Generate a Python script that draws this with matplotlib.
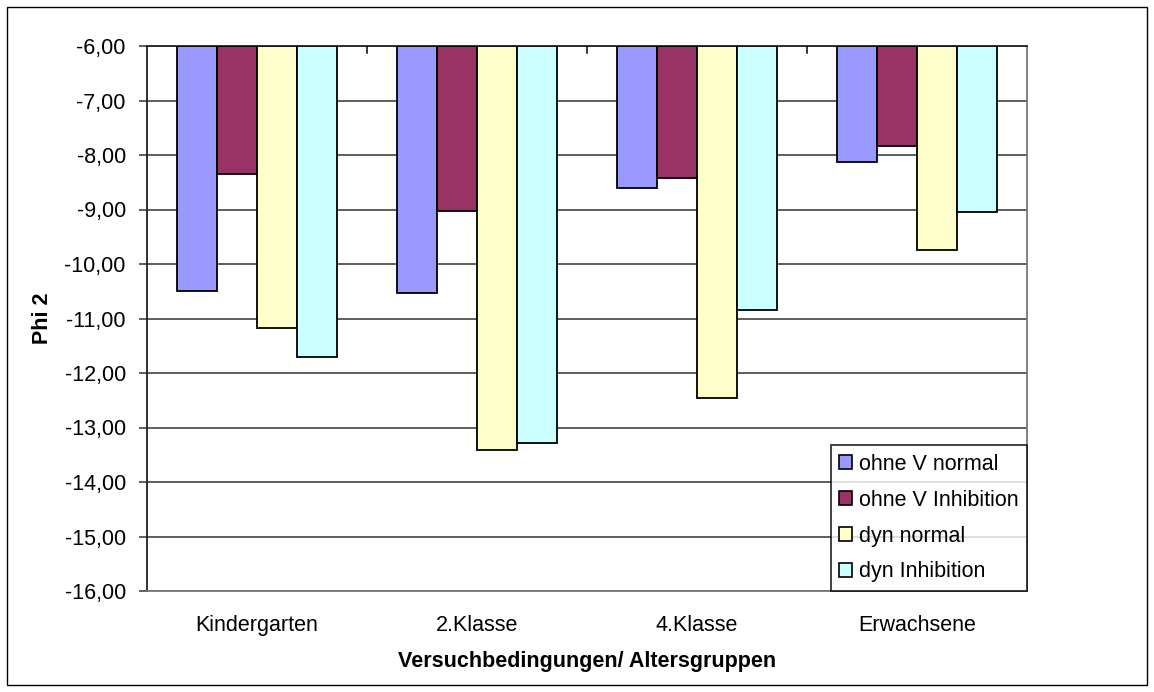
import numpy as np
import matplotlib
matplotlib.use('Agg')
import matplotlib.pyplot as plt
from matplotlib.patches import Patch, Rectangle
from matplotlib.ticker import FuncFormatter

# Data
categories = ['Kindergarten', '2.Klasse', '4.Klasse', 'Erwachsene']
series_names = ['ohne V normal', 'ohne V Inhibition', 'dyn normal', 'dyn Inhibition']
ohne_v_normal = [-10.50, -10.53, -8.60, -8.13]
ohne_v_inhibition = [-8.35, -9.02, -8.42, -7.84]
dyn_normal = [-11.17, -13.41, -12.46, -9.74]
dyn_inhibition = [-11.70, -13.28, -10.85, -9.05]
series_values = [ohne_v_normal, ohne_v_inhibition, dyn_normal, dyn_inhibition]
colors = ['#9999FF', '#993366', '#FFFFCC', '#CCFFFF']

AXIS_TOP = -6.0
AXIS_BOTTOM = -16.0
FS = 15.5

plt.rcParams['font.family'] = ['Liberation Sans', 'DejaVu Sans']

W, H = 1154, 692
fig = plt.figure(figsize=(W / 100, H / 100), dpi=100)
ax = fig.add_axes([146.7 / W, 1 - 591 / H, (1027 - 146.7) / W, (591 - 46) / H])

# Excel-like grouping: gap width 150%
n = len(series_values)
bar_w = 1.0 / (n + 1.5)
x = np.arange(len(categories))

for i, (vals, col) in enumerate(zip(series_values, colors)):
    vals = np.array(vals)
    offs = (i - (n - 1) / 2) * bar_w
    ax.bar(x + offs, vals - AXIS_TOP, bottom=AXIS_TOP, width=bar_w,
           color=col, edgecolor='black', linewidth=1.3, zorder=3)

ax.set_xlim(-0.5, len(categories) - 0.5)
ax.set_ylim(AXIS_BOTTOM, AXIS_TOP)

# gridlines
ax.set_yticks(np.arange(AXIS_BOTTOM, AXIS_TOP + 0.5, 1.0))
ax.yaxis.set_major_formatter(FuncFormatter(lambda v, p: '{:.2f}'.format(v).replace('.', ',')))
ax.grid(axis='y', color='#333333', linewidth=1.1, zorder=0)
ax.tick_params(axis='y', direction='out', length=6, width=1.1, color='#333333',
               labelsize=FS, pad=9)

# category labels at bottom, tick marks at boundaries on top axis
ax.set_xticks(x)
ax.set_xticklabels(categories)
ax.tick_params(axis='x', length=0, labelsize=FS, pad=17)
for b in np.arange(0.5, len(categories) - 0.5, 1.0):
    ax.plot([b, b], [AXIS_TOP, AXIS_TOP - 0.13], color='black', linewidth=1.1, zorder=4)

for side in ['left', 'top']:
    ax.spines[side].set_color('#222222')
    ax.spines[side].set_linewidth(1.3)
for side in ['right', 'bottom']:
    ax.spines[side].set_color('#777777')
    ax.spines[side].set_linewidth(1.3)

fig.text(587 / W, 1 - 662 / H, 'Versuchbedingungen/ Altersgruppen', fontsize=FS,
         fontweight='bold', ha='center', va='center')
fig.text(43 / W, 1 - 318.5 / H, 'Phi 2', fontsize=FS, fontweight='bold',
         rotation=90, ha='center', va='center')

handles = [Patch(facecolor=c, edgecolor='black', linewidth=1.2) for c in colors]
leg = ax.legend(handles, series_names, loc='lower right', bbox_to_anchor=(1.0, 0.0),
                fontsize=FS, frameon=True, fancybox=False, edgecolor='black',
                handlelength=0.6, handleheight=0.6, handletextpad=0.3,
                labelspacing=0.69, borderpad=0.4, borderaxespad=0.0)
leg.get_frame().set_linewidth(1.3)
leg.set_zorder(5)

# outer chart border
fig.patches.append(Rectangle((7 / W, 7 / H), 1 - 14 / W, 1 - 14 / H,
                             transform=fig.transFigure, fill=False,
                             edgecolor='black', linewidth=1.0))

fig.savefig('out.png', dpi=100)
